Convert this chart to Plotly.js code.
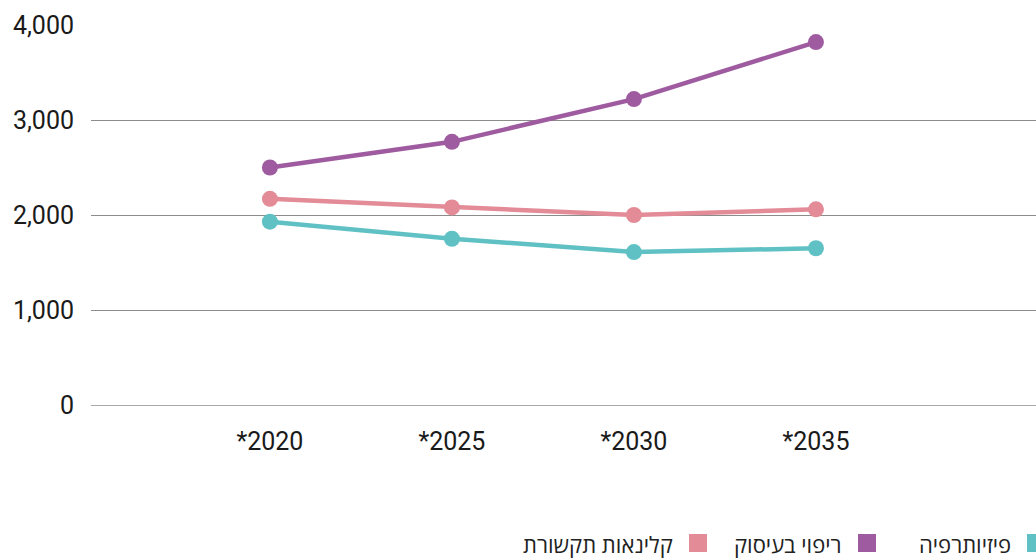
<!DOCTYPE html>
<html>
<head>
<meta charset="utf-8">
<script src="https://cdn.plot.ly/plotly-3.0.1.min.js"></script>
<style>
  html, body { margin: 0; padding: 0; background: #ffffff; }
  #chart { width: 1036px; height: 560px; }
</style>
</head>
<body>
<div id="chart"></div>
<script>
// Projected workforce by profession
const years = ['*2020', '*2025', '*2030', '*2035'];

const physioName = 'פיזיותרפיה';
const physio = [1930, 1750, 1610, 1650];

const occupationalName = 'ריפוי בעיסוק';
const occupational = [2500, 2770, 3220, 3820];

const speechName = 'קלינאות תקשורת';
const speech = [2170, 2080, 2000, 2060];

const yTicks = [0, 1000, 2000, 3000, 4000];

// Series styling, in legend order from right to left
const series = [
  { name: physioName, values: physio, color: '#60c1c4' },
  { name: occupationalName, values: occupational, color: '#9f5ba0' },
  { name: speechName, values: speech, color: '#e38b96' }
];

const W = 1036, H = 560;
const M = { l: 91, r: 0, t: 25, b: 155 };
const plotW = W - M.l - M.r;
const plotH = H - M.t - M.b;

// pixel -> paper helpers for the hand-built legend
const px = x => (x - M.l) / plotW;
const py = y => (H - M.b - y) / plotH;

const traces = series.map(s => ({
  type: 'scatter',
  mode: 'lines+markers',
  x: years,
  y: s.values,
  name: s.name,
  line: { color: s.color, width: 4.5 },
  marker: { color: s.color, size: 16 },
  showlegend: false,
  hoverinfo: 'x+y+name'
}));

// Legend: square on the right of each label, laid out right-to-left
const shapes = [];
const annotations = [];
const sq = 18, firstSquareLeft = 1027, step = 169, legendMid = 543, gap = 14;
series.forEach((s, i) => {
  const left = firstSquareLeft - step * i;
  shapes.push({
    type: 'rect', xref: 'paper', yref: 'paper',
    x0: px(left), x1: px(left + sq),
    y0: py(legendMid + sq / 2), y1: py(legendMid - sq / 2),
    fillcolor: s.color, line: { width: 0 }
  });
  annotations.push({
    xref: 'paper', yref: 'paper',
    x: px(left - gap), y: py(legendMid + 1),
    xanchor: 'right', yanchor: 'middle',
    text: s.name, showarrow: false,
    font: { family: '"Open Sans", "Liberation Sans", sans-serif', size: 22, color: '#222222' }
  });
});

const layout = {
  width: W,
  height: H,
  margin: M,
  paper_bgcolor: '#ffffff',
  plot_bgcolor: '#ffffff',
  font: { family: 'Roboto, "Open Sans", sans-serif', size: 25, color: '#1a1a1a' },
  showlegend: false,
  xaxis: {
    type: 'category',
    range: [-0.983, 4.209],
    showgrid: false,
    zeroline: false,
    showline: false,
    ticks: '',
    ticklabelstandoff: 19,
    tickfont: { family: 'Roboto, sans-serif', size: 25, color: '#1a1a1a' }
  },
  yaxis: {
    range: [0, 4000],
    tickvals: yTicks,
    tickformat: ',d',
    showgrid: true,
    gridcolor: '#8c8c8c',
    gridwidth: 1,
    zeroline: true,
    zerolinecolor: '#a8a8a8',
    zerolinewidth: 1,
    showline: false,
    ticks: '',
    ticklabelstandoff: 16,
    tickfont: { family: 'Roboto, sans-serif', size: 25, color: '#1a1a1a' }
  },
  shapes: shapes,
  annotations: annotations
};

Plotly.newPlot('chart', traces, layout, { displayModeBar: false, staticPlot: true });
</script>
</body>
</html>
